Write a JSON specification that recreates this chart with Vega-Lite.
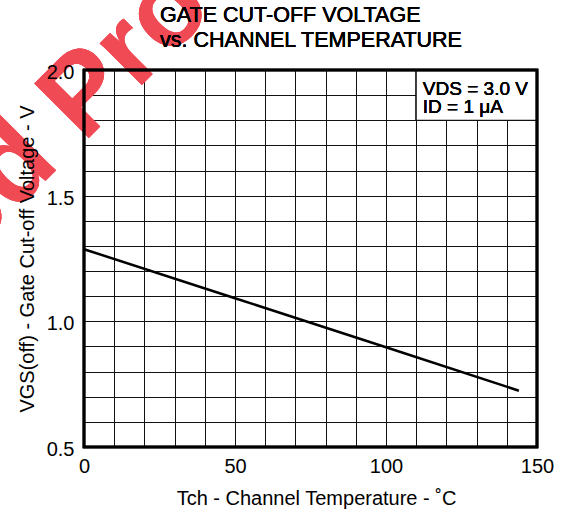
{
  "$schema": "https://vega.github.io/schema/vega-lite/v6.json",
  "width": 453,
  "height": 377,
  "autosize": {"type": "none"},
  "padding": {"left": 84, "top": 70, "right": 28, "bottom": 67},
  "background": "white",
  "config": {
    "view": {"stroke": null},
    "font": "Liberation Sans",
    "axis": {
      "ticks": false,
      "domain": false,
      "gridColor": "#111111",
      "gridWidth": 1,
      "gridOpacity": 1,
      "labelFontSize": 20,
      "labelColor": "black",
      "labelFont": "Liberation Sans",
      "labelOverlap": false,
      "labelFlush": false,
      "titleFontSize": 20,
      "titleFontWeight": "normal",
      "titleColor": "black",
      "titleFont": "Liberation Sans"
    }
  },
  "resolve": {"axis": {"x": "independent", "y": "independent"}},
  "data": {
    "values": [
      {"temp": 0, "vgs": 1.287},
      {"temp": 50, "vgs": 1.092},
      {"temp": 100, "vgs": 0.897},
      {"temp": 144, "vgs": 0.724}
    ]
  },
  "layer": [
    {
      "mark": {"type": "text", "align": "center", "baseline": "middle", "fontSize": 112, "fontWeight": "bold", "font": "Liberation Sans", "angle": -45, "color": "#f04a55", "opacity": 0.75, "clip": false},
      "encoding": {
        "x": {
          "datum": -45.3,
          "type": "quantitative",
          "axis": {
            "orient": "top",
            "values": [0, 10, 20, 30, 40, 50, 60, 70, 80, 90, 100, 110, 120, 130, 140, 150],
            "tickCount": 16,
            "grid": true,
            "labels": false,
            "title": null,
            "zindex": 0
          }
        },
        "y": {
          "datum": 1.358,
          "type": "quantitative",
          "axis": {
            "orient": "right",
            "values": [0.5, 0.6, 0.7, 0.8, 0.9, 1.0, 1.1, 1.2, 1.3, 1.4, 1.5, 1.6, 1.7, 1.8, 1.9, 2.0],
            "tickCount": 16,
            "grid": true,
            "labels": false,
            "title": null,
            "zindex": 0
          }
        },
        "text": {"value": "Discontinued Product"}
      }
    },
    {
      "mark": {"type": "line", "color": "black", "strokeWidth": 2.5},
      "encoding": {
        "x": {
          "field": "temp",
          "type": "quantitative",
          "scale": {"domain": [0, 150], "nice": false, "zero": false},
          "axis": {
            "orient": "bottom",
            "values": [0, 50, 100, 150],
            "grid": false,
            "zindex": 1,
            "labelPadding": 9,
            "title": "Tch - Channel Temperature - ˚C",
            "titleX": 232,
            "titleY": 57,
            "titleBaseline": "alphabetic",
            "titleAlign": "center"
          }
        },
        "y": {
          "field": "vgs",
          "type": "quantitative",
          "scale": {"domain": [0.5, 2.0], "nice": false, "zero": false},
          "axis": {
            "orient": "left",
            "values": [0.5, 1.0, 1.5, 2.0],
            "format": ".1f",
            "grid": false,
            "zindex": 1,
            "labelPadding": 10,
            "labelBaseline": "middle",
            "labelOffset": 2.5,
            "title": "VGS(off) - Gate Cut-off Voltage - V",
            "titleX": -51,
            "titleY": 188.5,
            "titleAngle": -90,
            "titleAlign": "center",
            "titleBaseline": "alphabetic"
          }
        }
      }
    },
    {
      "mark": {"type": "rect", "fill": "white", "stroke": "black", "strokeWidth": 1},
      "encoding": {
        "x": {"datum": 110, "type": "quantitative", "axis": null},
        "x2": {"datum": 150},
        "y": {"datum": 1.8, "type": "quantitative", "axis": null},
        "y2": {"datum": 2.0}
      }
    },
    {
      "mark": {"type": "text", "align": "left", "baseline": "alphabetic", "fontSize": 19, "fontWeight": "normal", "color": "black", "font": "Liberation Sans"},
      "encoding": {
        "x": {"datum": 112.2, "type": "quantitative", "axis": null},
        "y": {"datum": 1.9, "type": "quantitative", "axis": null},
        "text": {"value": "VDS = 3.0 V"}
      }
    },
    {
      "mark": {"type": "text", "align": "left", "baseline": "alphabetic", "fontSize": 19, "fontWeight": "normal", "color": "black", "font": "Liberation Sans"},
      "encoding": {
        "x": {"datum": 112.2, "type": "quantitative", "axis": null},
        "y": {"datum": 1.828, "type": "quantitative", "axis": null},
        "text": {"value": "ID = 1 μA"}
      }
    },
    {
      "mark": {"type": "text", "align": "left", "baseline": "alphabetic", "fontSize": 21.5, "fontWeight": "normal", "color": "black", "font": "Liberation Sans", "clip": false},
      "encoding": {
        "x": {"datum": 25.2, "type": "quantitative", "axis": null},
        "y": {"datum": 2.192, "type": "quantitative", "axis": null},
        "text": {"value": "GATE CUT-OFF VOLTAGE"}
      }
    },
    {
      "mark": {"type": "text", "align": "left", "baseline": "alphabetic", "fontSize": 21.5, "fontWeight": "normal", "color": "black", "font": "Liberation Sans", "clip": false},
      "encoding": {
        "x": {"datum": 25.2, "type": "quantitative", "axis": null},
        "y": {"datum": 2.093, "type": "quantitative", "axis": null},
        "text": {"value": "vs. CHANNEL TEMPERATURE"}
      }
    },
    {
      "mark": {"type": "rect", "filled": false, "color": "black", "strokeWidth": 2.5},
      "encoding": {
        "x": {"datum": 0, "type": "quantitative", "axis": null},
        "x2": {"datum": 150},
        "y": {"datum": 0.5, "type": "quantitative", "axis": null},
        "y2": {"datum": 2.0}
      }
    }
  ]
}
